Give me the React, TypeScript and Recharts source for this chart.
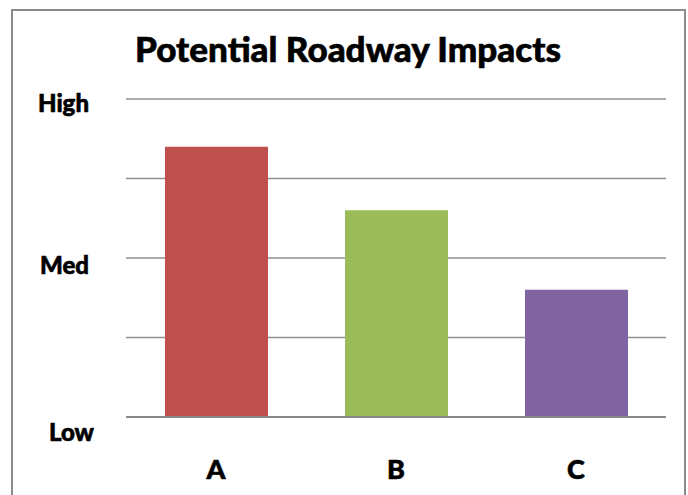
import React from "react";
import { BarChart, Bar, XAxis, YAxis, CartesianGrid, Cell } from "recharts";

// Roadway impact rating per alternative (0 = Low, 2 = Med, 4 = High)
const alternatives = ["A", "B", "C"];
const impactScores = [3.4, 2.6, 1.6];
const barColors = ["#C0504D", "#9BBB59", "#8064A2"];
const levelTicks = [0, 1, 2, 3, 4];
const levelLabels: Record<number, string> = { 0: "Low", 2: "Med", 4: "High" };
const chartTitle = "Potential Roadway Impacts";

const data = alternatives.map((name, i) => ({ name, impact: impactScores[i] }));

const FONT = "Lato, 'Noto Sans', sans-serif";

// Shared heavy text styling
const heavyText = {
  fontFamily: FONT,
  fontWeight: 900,
  fill: "#000",
  stroke: "#000",
  strokeWidth: 0.6,
};

// Label placement tweaks for the rating names on the value axis
const labelOffset: Record<string, { dx: number; dy: number }> = {
  High: { dx: -37, dy: 13 },
  Med: { dx: -37, dy: 16 },
  Low: { dx: -32, dy: 24 },
};

const LevelTick = (props: any) => {
  const { x, y, payload } = props;
  const label = levelLabels[payload.value];
  if (!label) return null;
  const o = labelOffset[label];
  return (
    <text x={x + o.dx} y={y + o.dy} textAnchor="end" fontSize={24} {...heavyText}>
      {label}
    </text>
  );
};

const CategoryTick = (props: any) => {
  const { x, y, payload } = props;
  return (
    <text x={x} y={y + 62} textAnchor="middle" fontSize={27} {...heavyText}>
      {payload.value}
    </text>
  );
};

export default function App() {
  return (
    <div
      style={{
        position: "absolute",
        left: 0,
        top: 0,
        width: 688,
        height: 495,
        overflow: "hidden",
        background: "#fff",
      }}
    >
      <BarChart
        width={688}
        height={495}
        data={data}
        margin={{ top: 99, right: 22, bottom: 18, left: 0 }}
      >
        <CartesianGrid vertical={false} stroke="#8f8f8f" strokeWidth={1.5} />
        <YAxis
          domain={[0, 4]}
          ticks={levelTicks}
          width={126}
          axisLine={false}
          tickLine={false}
          tickSize={0}
          tickMargin={0}
          tick={<LevelTick />}
          interval={0}
        />
        <XAxis
          dataKey="name"
          height={60}
          axisLine={{ stroke: "#878787", strokeWidth: 2 }}
          tickLine={false}
          tickSize={0}
          tickMargin={0}
          tick={<CategoryTick />}
        />
        <Bar dataKey="impact" barSize={103} isAnimationActive={false}>
          {data.map((d, i) => (
            <Cell key={d.name} fill={barColors[i]} />
          ))}
        </Bar>
      </BarChart>
      <svg
        width={688}
        height={495}
        style={{ position: "absolute", left: 0, top: 0, pointerEvents: "none" }}
      >
        <rect
          x={12}
          y={10}
          width={673}
          height={500}
          fill="none"
          stroke="#8c8c8c"
          strokeWidth={2}
        />
        <text
          x={348}
          y={62}
          textAnchor="middle"
          fontSize={34}
          textLength={426}
          lengthAdjust="spacingAndGlyphs"
          {...heavyText}
        >
          {chartTitle}
        </text>
      </svg>
    </div>
  );
}
